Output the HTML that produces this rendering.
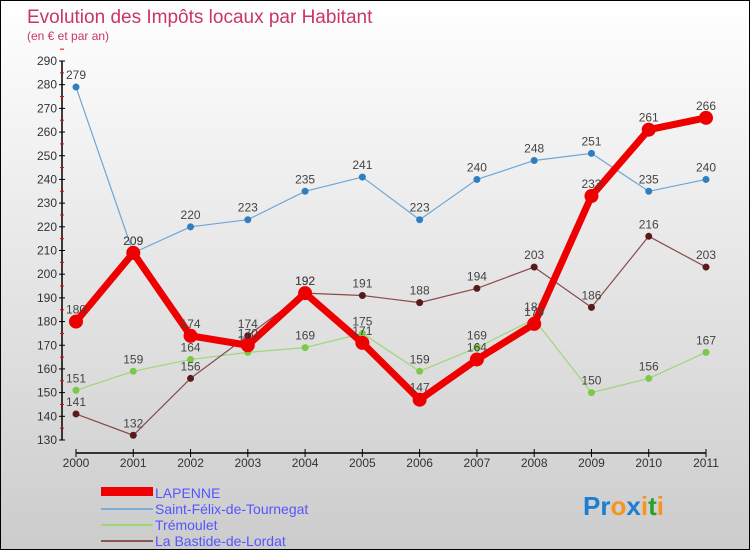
<!DOCTYPE html>
<html><head><meta charset="utf-8"><style>
body{margin:0;width:750px;height:550px;overflow:hidden;font-family:"Liberation Sans",sans-serif}
#wrap{position:relative;width:748px;height:548px;border:1px solid #000;background:linear-gradient(#fff,#ccc)}
</style></head><body>
<div id="wrap">
<svg id="chart" width="748" height="548" font-family="Liberation Sans, sans-serif">
<text x="26" y="22" font-size="19" fill="#c8356a">Evolution des Impôts locaux par Habitant</text>
<text x="26" y="39" font-size="12" fill="#c8356a">(en € et par an)</text>
<g id="axes"></g><g id="series"></g>
<g>
<rect x="100" y="486" width="52" height="9" fill="#e00"/>
<text x="154" y="497" font-size="14" fill="#55f">LAPENNE</text>
<line x1="100" y1="508" x2="152" y2="508" stroke="#7aaed6" stroke-width="2"/>
<text x="154" y="513" font-size="14" fill="#55f">Saint-Félix-de-Tournegat</text>
<line x1="100" y1="524" x2="152" y2="524" stroke="#9fd67a" stroke-width="2"/>
<text x="154" y="529" font-size="14" fill="#55f">Trémoulet</text>
<line x1="100" y1="540" x2="152" y2="540" stroke="#8a5555" stroke-width="2"/>
<text x="154" y="545" font-size="14" fill="#55f">La Bastide-de-Lordat</text>
</g>
<text x="582" y="514" font-size="26" font-weight="bold"><tspan fill="#1a7fd0">Pr</tspan><tspan fill="#f7941d">o</tspan><tspan fill="#1a7fd0">x</tspan><tspan fill="#f7941d">i</tspan><tspan fill="#2ca02c">t</tspan><tspan fill="#f7941d">i</tspan></text>
</svg></div>
<script>
const years=["2000","2001","2002","2003","2004","2005","2006","2007","2008","2009","2010","2011"];
const yTicks=[130,140,150,160,170,180,190,200,210,220,230,240,250,260,270,280,290];
const lapenne=[180,209,174,170,192,171,147,164,179,233,261,266];
const saintFelix=[279,209,220,223,235,241,223,240,248,251,235,240];
const tremoulet=[151,159,164,167,169,175,159,169,181,150,156,167];
const bastide=[141,132,156,174,192,191,188,194,203,186,216,203];
const NS="http://www.w3.org/2000/svg";
const X=i=>75+i*(630/11);
const Y=v=>60+(290-v)*(379/160);
function mk(t,a,p){const e=document.createElementNS(NS,t);for(const k in a)e.setAttribute(k,a[k]);p.appendChild(e);return e;}
const ax=document.getElementById('axes');
let l=mk('line',{x1:61,y1:Y(290),x2:61,y2:Y(130),stroke:'#000','stroke-width':1.5},ax);


yTicks.forEach(v=>{
 mk('line',{x1:58,y1:Y(v),x2:64,y2:Y(v),stroke:'#000'},ax);
 mk('line',{x1:59,y1:Y(v+5),x2:63,y2:Y(v+5),stroke:'#e00'},ax);
 const t=mk('text',{x:56,y:Y(v)+4,'font-size':12,fill:'#333','text-anchor':'end'},ax);t.textContent=v;
 
 
});
l=mk('line',{x1:X(0),y1:452,x2:X(11),y2:452,stroke:'#000','stroke-width':1.5},ax);


years.forEach((y,i)=>{
 mk('line',{x1:X(i),y1:448,x2:X(i),y2:456,stroke:'#000'},ax);
 const t=mk('text',{x:X(i),y:466,'font-size':12,fill:'#333','text-anchor':'middle'},ax);t.textContent=y;
 
 
});
const sg=document.getElementById('series');
function draw(data,name,color,dot,w,r){
 const g=mk('g',{},sg);
 
 
 mk('polyline',{points:data.map((v,i)=>X(i)+','+Y(v)).join(' '),fill:'none',stroke:color,'stroke-width':w,'stroke-linejoin':'round'},g);
 data.forEach((v,i)=>{
  const c=mk('circle',{cx:X(i),cy:Y(v),r:r,fill:dot},g);
  
  
  const t=mk('text',{x:X(i),y:Y(v)-8,'font-size':12,fill:'#444','text-anchor':'middle'},g);t.textContent=v;
  
  
 });
}
draw(saintFelix,'saint-felix','#6fa6d6','#2f7fc0',1.2,3.5);
draw(tremoulet,'tremoulet','#9fd67a','#7cc84a',1.2,3.5);
draw(bastide,'la-bastide','#8a4a4a','#5a1a1a',1.2,3.5);
draw(lapenne,'lapenne','#e00','#e00',7,7);
</script></body></html>
